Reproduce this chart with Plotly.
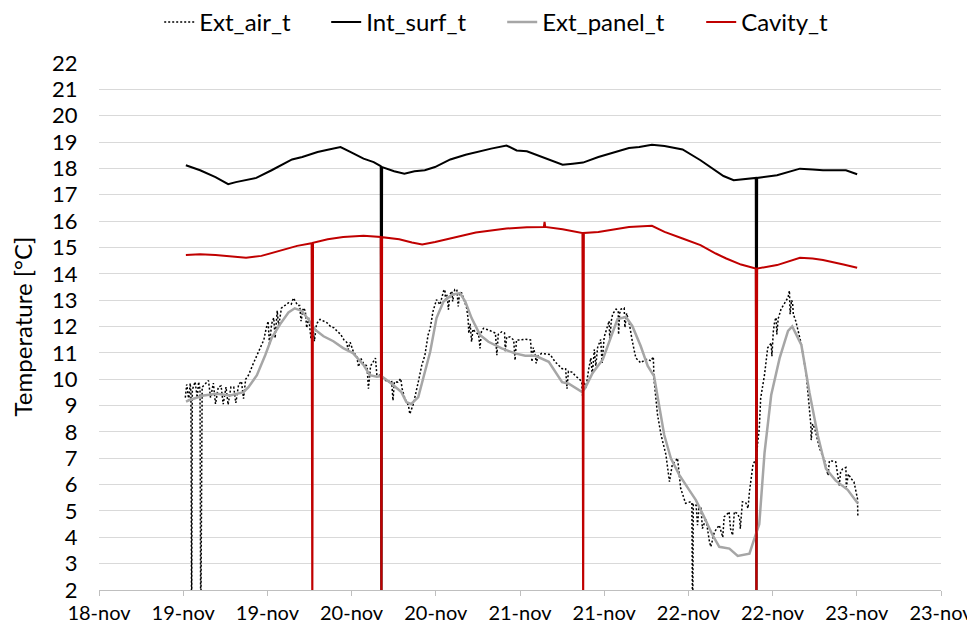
import plotly.graph_objects as go

# ---------------- data (hours from 18-nov 00:00 axis origin) ----------------
x_tick_hours = [0, 12, 24, 36, 48, 60, 72, 84, 96, 108, 120]
x_tick_labels = ["18-nov", "19-nov", "19-nov", "20-nov", "20-nov", "21-nov",
                 "21-nov", "22-nov", "22-nov", "23-nov", "23-nov"]
y_tick_values = list(range(2, 23))

ext_air_hours = [
    12.3, 12.5, 12.8, 13.0, 13.1, 13.2, 13.3, 13.7, 14.0, 14.2,
    14.4, 14.5, 14.7, 15.6, 15.9, 16.3, 16.6, 17.0, 17.4, 17.7,
    18.1, 18.4, 18.8, 19.2, 19.5, 19.9, 20.3, 20.6, 20.9, 21.3,
    22.0, 22.5, 23.0, 23.5, 23.8, 24.1, 24.3, 24.6, 24.9, 25.1,
    25.4, 25.6, 26.0, 26.5, 27.0, 27.4, 27.7, 28.0, 28.3, 28.6,
    28.8, 29.1, 29.4, 29.6, 29.9, 30.2, 30.5, 30.7, 31.0, 31.5,
    32.0, 32.5, 33.0, 33.5, 34.0, 34.4, 34.9, 35.3, 35.5, 35.8,
    36.3, 36.7, 37.0, 37.3, 37.7, 38.2, 38.4, 38.7, 39.1, 39.4,
    39.6, 40.0, 40.5, 41.2, 41.7, 41.9, 42.1, 42.6, 43.0, 43.2,
    43.6, 44.1, 44.3, 44.8, 45.5, 46.0, 46.45, 46.9, 47.2, 47.6,
    48.1, 48.6, 49.1, 49.3, 49.4, 49.6, 49.8, 50.0, 50.3, 50.4,
    50.7, 51.0, 51.2, 51.4, 51.7, 52.4, 52.6, 52.7, 52.9, 53.1,
    53.3, 53.6, 54.1, 54.3, 54.5, 54.8, 55.5, 56.2, 56.5, 56.7,
    56.9, 57.4, 57.8, 57.9, 58.1, 58.6, 59.1, 59.3, 59.5, 60.0,
    60.75, 61.5, 61.7, 61.9, 62.2, 62.3, 62.6, 63.1, 64.3, 65.0,
    66.0, 66.5, 66.7, 66.9, 67.4, 68.0, 68.4, 68.8, 68.9, 69.1,
    69.4, 69.8, 70.1, 70.3, 70.6, 70.8, 71.06, 71.5, 71.7, 72.0,
    72.25, 72.7, 72.8, 73.0, 73.2, 73.7, 74.0, 74.05, 74.2, 74.4,
    74.85, 74.95, 75.2, 75.6, 76.0, 76.5, 77.2, 77.9, 78.3, 78.65,
    79.0, 79.1, 79.6, 80.1, 80.8, 81.3, 81.7, 82.2, 82.45, 82.9,
    83.6, 84.35, 84.5, 84.6, 84.7, 85.1, 85.3, 85.5, 85.8, 86.0,
    86.5, 87.0, 87.2, 87.7, 88.4, 88.9, 89.1, 89.6, 89.8, 90.0,
    90.3, 90.55, 91.0, 91.3, 91.4, 91.7, 92.2, 92.5, 92.7, 93.2,
    93.65, 94.1, 94.3, 94.85, 95.3, 95.6, 95.8, 95.9, 96.1, 96.3,
    96.5, 96.6, 96.8, 97.2, 97.9, 98.2, 98.4, 98.5, 98.7, 98.85,
    98.95, 99.3, 100.1, 100.8, 101.2, 101.45, 101.5, 101.7, 102.0, 102.7,
    103.4, 103.9, 104.1, 104.4, 105.0, 105.5, 105.7, 106.0, 106.45, 106.5,
    106.8, 107.2, 107.6, 108.1, 108.15,
]
ext_air_t = [
    9.3, 9.8, 9.2, 9.85, 9.5, 0.0, 9.6, 9.9, 9.3, 9.9,
    9.6, 0.0, 9.7, 9.95, 9.3, 9.85, 9.06, 9.7, 9.75, 9.05,
    9.7, 9.03, 9.7, 9.7, 9.1, 9.8, 9.92, 9.26, 10.0, 10.15,
    10.6, 10.9, 11.24, 11.5, 11.9, 12.2, 11.3, 12.1, 12.33, 11.56,
    12.6, 12.0, 12.7, 12.8, 12.9, 12.85, 13.08, 12.95, 12.8, 12.8,
    12.2, 12.7, 12.6, 11.95, 12.33, 11.56, 11.95, 11.44, 12.1, 12.27,
    12.2, 12.14, 12.0, 11.95, 11.8, 11.72, 11.5, 11.4, 11.12, 11.4,
    11.0, 10.9, 10.47, 10.8, 10.6, 10.5, 9.64, 10.5, 10.67, 10.8,
    10.15, 10.15, 10.02, 9.89, 9.95, 9.19, 9.9, 9.89, 10.02, 9.64,
    9.26, 9.0, 8.68, 9.06, 9.89, 10.53, 10.91, 11.68, 11.93, 12.57,
    13.02, 12.83, 13.34, 13.4, 12.95, 13.2, 12.64, 13.2, 13.34, 12.95,
    13.4, 13.4, 12.76, 13.3, 13.27, 12.7, 12.3, 11.74, 12.1, 11.42,
    11.9, 11.8, 11.7, 11.17, 11.8, 11.93, 11.87, 11.8, 11.75, 10.91,
    11.7, 11.8, 11.75, 11.04, 11.6, 11.6, 11.49, 10.72, 11.49, 11.49,
    11.52, 11.49, 10.66, 11.2, 10.9, 10.6, 10.9, 10.98, 10.94, 10.66,
    10.4, 10.4, 9.64, 10.3, 10.27, 10.1, 10.02, 9.9, 9.38, 9.9,
    9.67, 10.4, 10.81, 10.18, 11.13, 10.5, 11.2, 11.51, 10.62, 11.6,
    11.83, 12.21, 11.45, 12.2, 12.47, 12.66, 12.6, 11.7, 12.5, 12.66,
    12.7, 11.96, 12.5, 12.08, 11.45, 10.81, 10.62, 10.75, 10.75, 10.69,
    10.85, 9.99, 8.65, 7.89, 7.13, 6.11, 6.75, 6.9, 7.0, 5.86,
    5.29, 5.35, 5.3, 0.0, 5.25, 5.22, 4.46, 5.1, 5.1, 4.33,
    4.71, 3.83, 3.64, 4.2, 4.46, 4.0, 4.78, 4.9, 4.97, 4.33,
    4.08, 4.97, 4.9, 4.72, 4.33, 5.35, 5.3, 5.1, 5.73, 6.75,
    7.0, 8.13, 9.28, 10.17, 11.19, 11.3, 11.38, 10.87, 11.8, 12.21,
    12.34, 11.7, 12.3, 12.66, 12.97, 13.1, 13.36, 12.47, 13.0, 12.9,
    12.47, 12.21, 11.32, 10.17, 9.0, 8.26, 7.69, 8.3, 8.13, 7.37,
    6.92, 6.35, 6.9, 6.9, 6.86, 5.97, 6.5, 6.6, 6.65, 5.9,
    6.4, 6.22, 6.1, 5.46, 4.8,
]

int_surf_hours = [
    12.38, 14.41, 16.6, 18.41, 19.5, 20.6, 22.42, 24.6, 27.51, 28.97,
    31.15, 32.6, 34.42, 35.88, 37.7, 39.15, 40.15, 40.25, 40.35, 42.06,
    43.52, 44.97, 46.43, 47.88, 50.07, 52.25, 53.7, 55.89, 58.07, 59.52,
    60.98, 63.16, 66.07, 67.53, 68.98, 71.17, 73.35, 75.53, 77.0, 78.8,
    80.6, 83.17, 85.72, 87.9, 89.0, 90.45, 92.3, 93.6, 93.7, 93.8,
    96.63, 98.09, 99.9, 101.7, 103.18, 104.6, 106.45, 108.05,
]
int_surf_t = [
    18.12, 17.93, 17.67, 17.40, 17.48, 17.55, 17.64, 17.93, 18.34, 18.43,
    18.62, 18.71, 18.81, 18.62, 18.37, 18.24, 18.09, 0.0, 18.05, 17.89,
    17.80, 17.89, 17.93, 18.05, 18.34, 18.52, 18.62, 18.75, 18.87, 18.68,
    18.65, 18.43, 18.14, 18.18, 18.22, 18.43, 18.60, 18.77, 18.81, 18.90,
    18.85, 18.72, 18.31, 17.93, 17.71, 17.55, 17.61, 17.64, 0.0, 17.64,
    17.74, 17.86, 17.99, 17.96, 17.93, 17.93, 17.93, 17.78,
]

ext_panel_hours = [
    12.4, 12.8, 14.9, 16.8, 18.7, 20.6, 21.3, 22.5, 23.7, 24.6,
    25.8, 27.0, 27.9, 28.9, 29.85, 30.8, 32.0, 33.4, 34.8, 36.2,
    37.7, 38.6, 39.6, 40.25, 41.7, 43.1, 43.8, 44.5, 45.5, 46.2,
    47.2, 48.1, 49.1, 50.3, 51.45, 52.2, 53.1, 54.3, 55.5, 57.4,
    59.3, 60.75, 62.2, 64.1, 66.0, 66.95, 68.86, 69.3, 70.35, 71.8,
    72.96, 73.9, 75.1, 76.0, 77.2, 78.2, 79.1, 79.8, 80.55, 81.5,
    82.7, 84.1, 85.07, 86.2, 87.45, 88.4, 89.84, 91.03, 92.7, 93.4,
    94.1, 94.85, 95.8, 97.0, 98.2, 98.8, 100.1, 101.25, 102.45, 103.6,
    105.0, 106.7, 108.1,
]
ext_panel_t = [
    9.15, 9.2, 9.38, 9.45, 9.38, 9.51, 9.7, 10.15, 10.92, 11.56,
    12.08, 12.53, 12.69, 12.59, 12.27, 11.88, 11.63, 11.44, 11.18, 10.99,
    10.54, 10.15, 10.09, 10.12, 9.83, 9.51, 9.13, 9.06, 9.32, 10.02,
    11.04, 12.32, 12.95, 13.21, 13.27, 12.95, 12.32, 11.68, 11.42, 11.17,
    10.98, 10.89, 10.89, 10.66, 9.89, 9.83, 9.51, 9.67, 10.24, 10.75,
    11.58, 12.28, 12.36, 12.02, 11.26, 10.5, 10.12, 9.04, 7.89, 7.0,
    6.37, 5.8, 5.41, 4.8, 4.08, 3.64, 3.57, 3.29, 3.38, 3.95,
    4.5, 7.2, 9.4, 10.8, 11.83, 12.0, 11.3, 9.5, 7.85, 6.6,
    6.15, 5.8, 5.3,
]

cavity_hours = [
    12.38, 14.4, 16.6, 18.05, 20.96, 23.14, 25.3, 28.24, 30.3, 30.4,
    30.5, 32.6, 34.8, 37.7, 40.15, 40.25, 40.35, 42.79, 44.6, 46.06,
    47.9, 50.8, 53.7, 58.07, 60.98, 63.4, 63.5, 63.6, 66.07, 68.9,
    69.0, 69.1, 71.17, 73.35, 75.53, 78.8, 80.6, 83.17, 85.72, 87.9,
    89.4, 91.5, 93.6, 93.7, 93.8, 96.63, 99.9, 101.7, 103.18, 106.1,
    108.05,
]
cavity_t = [
    14.71, 14.74, 14.71, 14.67, 14.61, 14.68, 14.83, 15.06, 15.16, 0.0,
    15.18, 15.31, 15.40, 15.44, 15.40, 0.0, 15.39, 15.31, 15.19, 15.11,
    15.21, 15.40, 15.57, 15.72, 15.77, 15.78, 15.97, 15.78, 15.69, 15.55,
    0.0, 15.55, 15.59, 15.68, 15.78, 15.82, 15.59, 15.34, 15.09, 14.77,
    14.58, 14.35, 14.20, 0.0, 14.20, 14.33, 14.61, 14.58, 14.52, 14.35,
    14.23,
]

series = [
    ("Ext_air_t", ext_air_hours, ext_air_t, dict(color="#000000", width=1.5, dash="2px,2px"), 122),
    ("Int_surf_t", int_surf_hours, int_surf_t, dict(color="#000000", width=2), 131),
    ("Ext_panel_t", ext_panel_hours, ext_panel_t, dict(color="#A6A6A6", width=2.5), 154),
    ("Cavity_t", cavity_hours, cavity_t, dict(color="#C00000", width=2), 100),
]

FONT = "Lato, 'Open Sans', sans-serif"

fig = go.Figure()
for name, xs, ys, line, lw in series:
    assert len(xs) == len(ys), name
    fig.add_trace(go.Scatter(x=xs, y=ys, mode="lines", name=name, line=line,
                             legendwidth=lw))

# page body has an 8px margin, so the figure is sized/offset to land on the
# reference pixel positions (plot area 99..941 x 63..590 in the window)
fig.update_layout(
    width=967, height=622,
    margin=dict(l=91, r=34, t=55, b=40, autoexpand=False),
    paper_bgcolor="white", plot_bgcolor="white",
    font=dict(family=FONT, size=20, color="#000000"),
    showlegend=True,
    legend=dict(orientation="h", xref="paper", x=0.0715, xanchor="left",
                yref="container", y=0.977, yanchor="middle",
                font=dict(size=24), itemwidth=30, bgcolor="rgba(0,0,0,0)"),
)
fig.update_xaxes(
    range=[0, 120], tickmode="array", tickvals=x_tick_hours, ticktext=x_tick_labels,
    showgrid=False, showline=True, linecolor="#BFBFBF", linewidth=1,
    ticks="outside", ticklen=5, tickcolor="#BFBFBF",
    tickfont=dict(size=20), zeroline=False, automargin=False,
)
fig.update_yaxes(
    range=[2, 22], tickmode="array", tickvals=y_tick_values,
    showgrid=True, gridcolor="#D9D9D9", gridwidth=1,
    showline=False, zeroline=False, ticks="outside", ticklen=16,
    tickcolor="rgba(0,0,0,0)", tickfont=dict(size=22), automargin=False,
    title=dict(text="Temperature [°C]", font=dict(size=24), standoff=12),
)

fig.write_html("out.html")
